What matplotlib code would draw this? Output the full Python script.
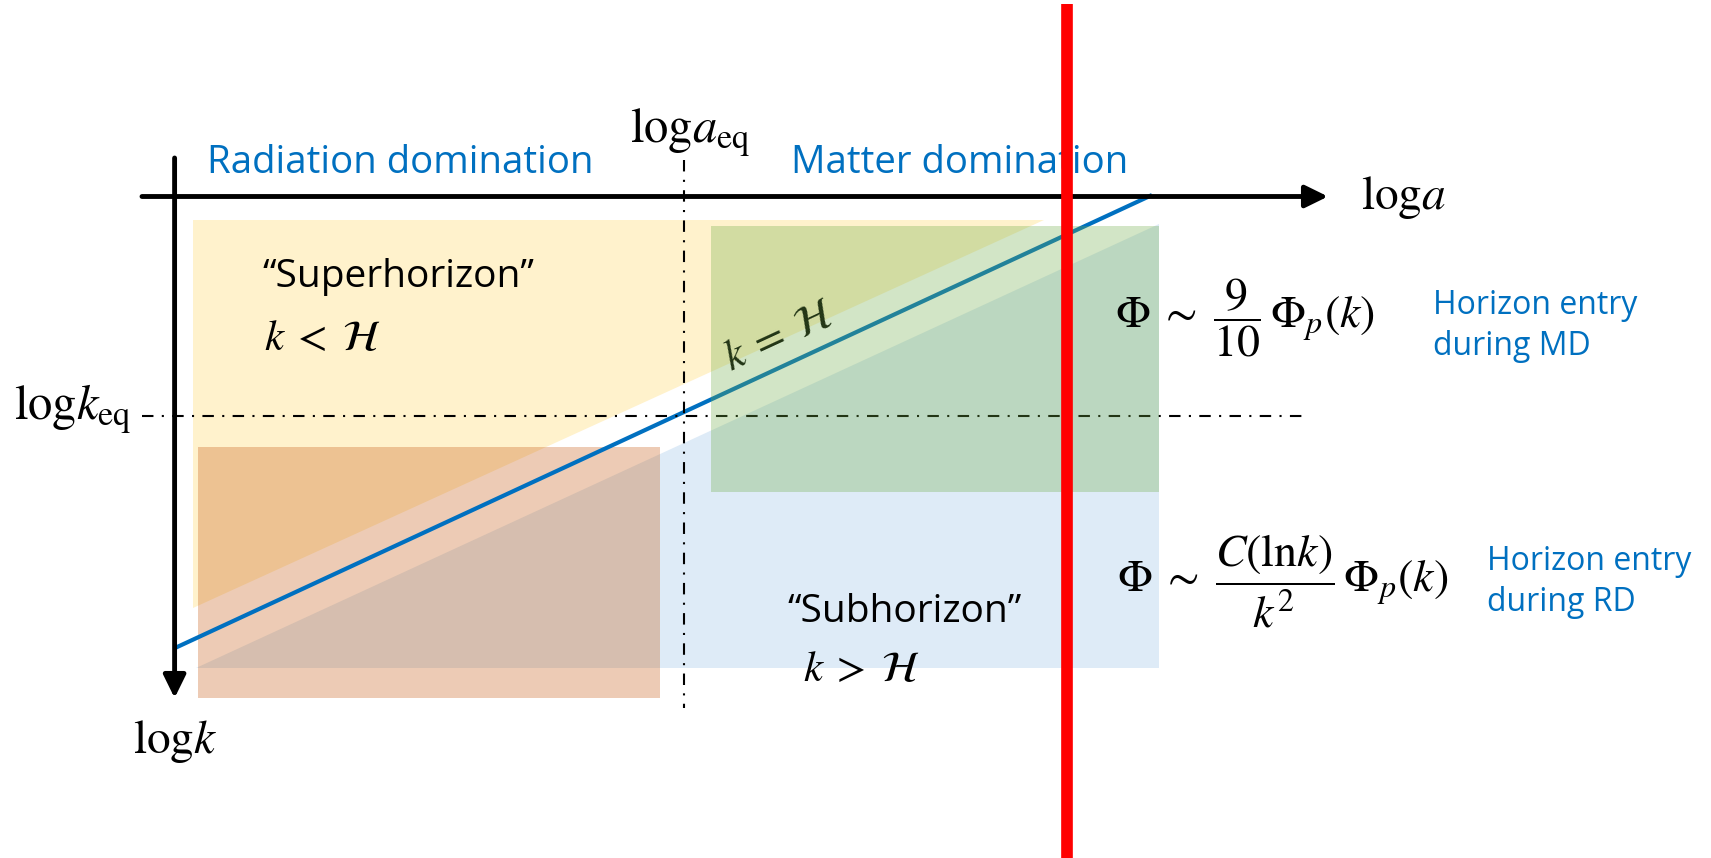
import matplotlib.pyplot as plt

plt.rcParams['mathtext.fontset'] = 'stix'

SANS = 'Open Sans'
BLUE = '#0070c0'

# canvas units: x = log a to the right, y = log k downward
loga_axis = [142, 1328]
logk_axis = [158, 698]
axis_x0 = 174.6
axis_y0 = 196.5
loga_eq = 684
logk_eq = 416
eq_line_end = [708, 1307]

# k = H crossing line
horizon_x = [175, 1152]
horizon_y = [648, 195]

# shaded regimes
super_x = [193, 1044, 193]
super_y = [220, 220, 608]
sub_x = [196, 1159, 1159]
sub_y = [668, 668, 224]
rd_x = [198, 660, 660, 198]
rd_y = [447, 447, 698, 698]
md_x = [711, 1159, 1159, 711]
md_y = [226, 226, 492, 492]

# present-day marker
now_x = 1067
now_y = [4, 858]

fig = plt.figure(figsize=(17.11, 8.58), dpi=100)
ax = fig.add_axes([0, 0, 1, 1])
ax.set_xlim(0, 1711)
ax.set_ylim(858, 0)
ax.axis('off')

ax.fill(super_x, super_y, color='#fff2cc', lw=0, zorder=1)
ax.fill(sub_x, sub_y, color='#deebf7', lw=0, zorder=1)
ax.fill(rd_x, rd_y, color='#c55a11', alpha=0.31, lw=0, zorder=2)

ax.plot(horizon_x, horizon_y, color=BLUE, lw=3.0, solid_capstyle='butt', zorder=3)

dashdot = (0, (5.5, 4.0, 1.0, 4.0))
ax.plot([loga_axis[0], eq_line_end[1]], [logk_eq, logk_eq], color='k', lw=1.5,
        linestyle=dashdot, zorder=3)
ax.plot([loga_eq, loga_eq], [160, eq_line_end[0]], color='k', lw=1.5,
        linestyle=dashdot, zorder=3)

ax.text(779, 336, r'$k\;=\;\mathcal{H}$', fontsize=31, rotation=24.8,
        ha='center', va='center', rotation_mode='anchor', zorder=3)

ax.fill(md_x, md_y, color='#70ad47', alpha=0.31, lw=0, zorder=4)

# axes with arrow heads
arrow = dict(arrowstyle='-|>,head_length=0.55,head_width=0.27', lw=3.5,
             color='k', shrinkA=0, shrinkB=0, mutation_scale=25)
ax.annotate('', xy=(loga_axis[1], axis_y0), xytext=(loga_axis[0], axis_y0),
            arrowprops=arrow, zorder=5)
ax.annotate('', xy=(axis_x0, logk_axis[1]), xytext=(axis_x0, logk_axis[0]),
            arrowprops=arrow, zorder=5)

# axis labels
ax.text(1361, 209, r'$\mathrm{log}a$', fontsize=34, ha='left', va='baseline')
ax.text(630, 142, r'$\mathrm{log}a_{\mathrm{eq}}$', fontsize=35, ha='left', va='baseline')
ax.text(14, 419, r'$\mathrm{log}k_{\mathrm{eq}}$', fontsize=35, ha='left', va='baseline')
ax.text(133, 753, r'$\mathrm{log}k$', fontsize=34, ha='left', va='baseline')

# era labels
ax.text(207, 173, 'Radiation domination', fontsize=27.6, color=BLUE, family=SANS,
        ha='left', va='baseline')
ax.text(791, 173, 'Matter domination', fontsize=27.6, color=BLUE, family=SANS,
        ha='left', va='baseline')

ax.text(262, 287, '\u201cSuperhorizon\u201d', fontsize=28, family=SANS,
        ha='left', va='baseline')
ax.text(264, 350, r'$k\;<\;\mathcal{H}$', fontsize=31, ha='left', va='baseline')
ax.text(787, 622, '\u201cSubhorizon\u201d', fontsize=28, family=SANS,
        ha='left', va='baseline')
ax.text(803, 681, r'$k\;>\;\mathcal{H}$', fontsize=31, ha='left', va='baseline')

# potentials after horizon entry
ax.text(1115, 318, r'$\Phi\;\sim\;\dfrac{9}{10}\,\Phi_p(k)$', fontsize=33,
        ha='left', va='center', zorder=6)
ax.text(1117, 581, r'$\Phi\;\sim\;\dfrac{C(\mathrm{ln}k)}{k^2}\,\Phi_p(k)$', fontsize=33,
        ha='left', va='center', zorder=6)
ax.text(1433, 326, 'Horizon entry\nduring MD', fontsize=23, color=BLUE, family=SANS,
        ha='left', va='center', linespacing=1.3)
ax.text(1487, 582, 'Horizon entry\nduring RD', fontsize=23, color=BLUE, family=SANS,
        ha='left', va='center', linespacing=1.3)

ax.plot([now_x, now_x], now_y, color='#ff0000', lw=8.4, solid_capstyle='butt', zorder=10)

fig.savefig('out.png', dpi=100)
